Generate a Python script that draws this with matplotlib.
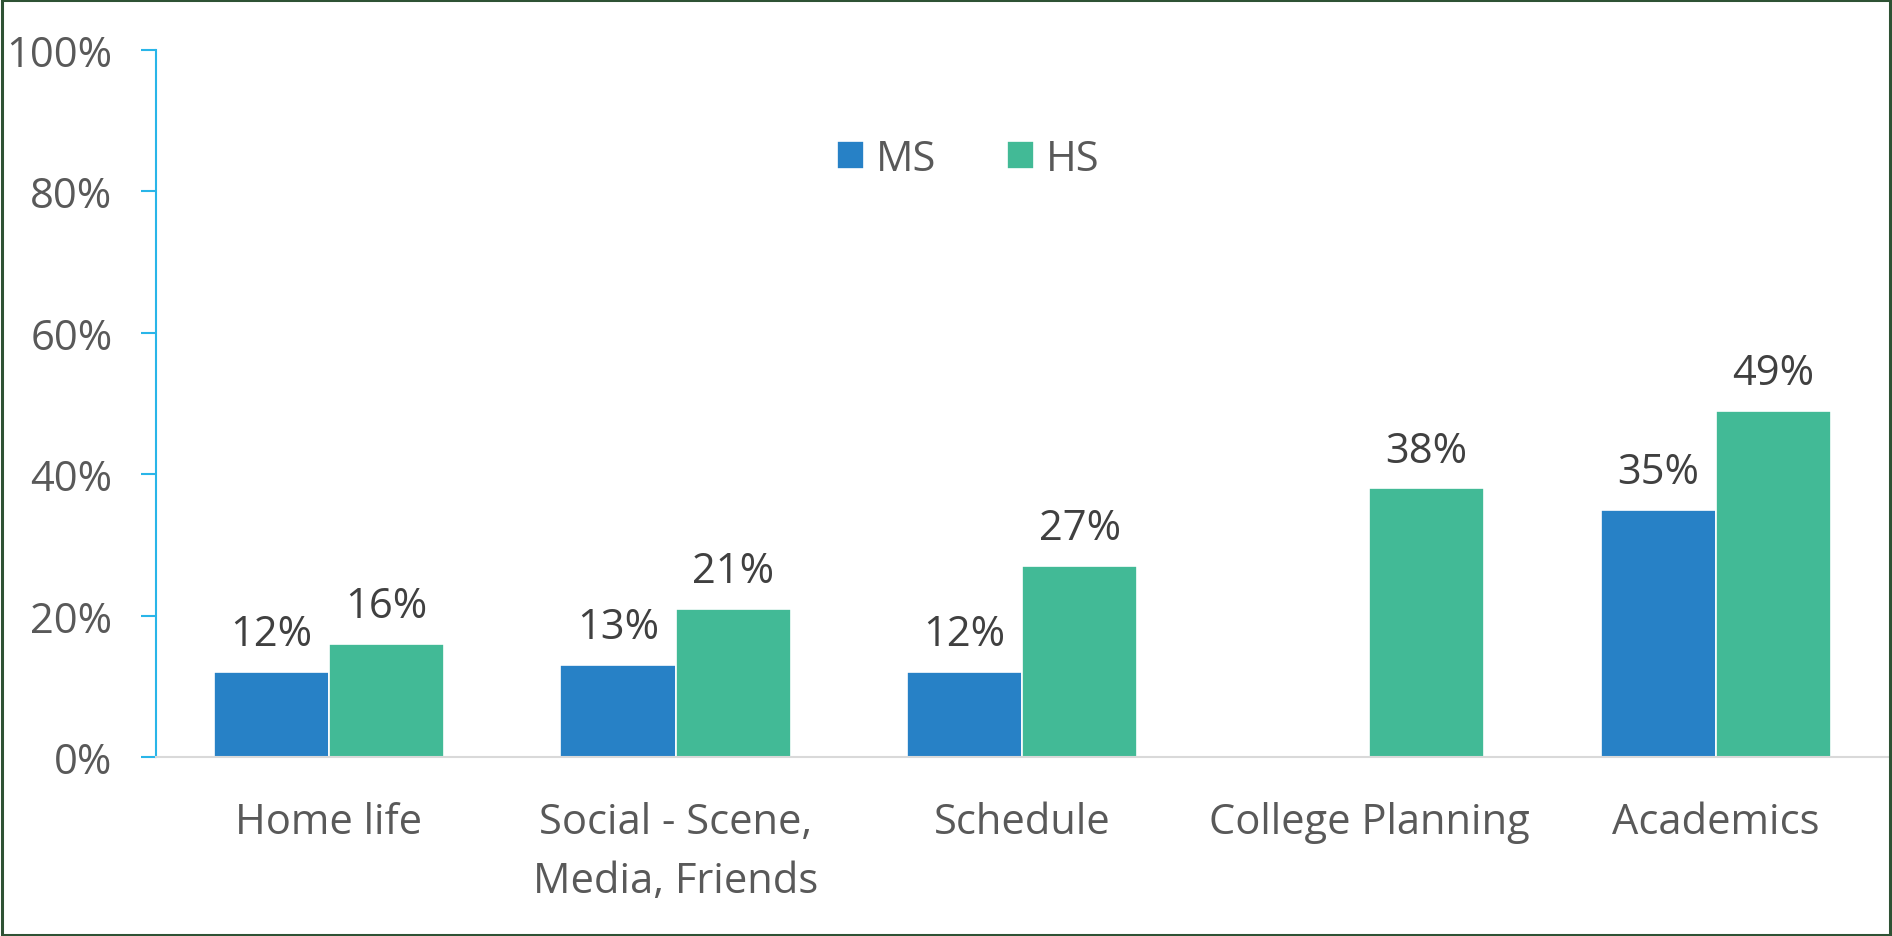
import matplotlib
matplotlib.use("Agg")
import matplotlib.pyplot as plt
from matplotlib.patches import Rectangle
import numpy as np

categories = ["Home life", "Social - Scene,\nMedia, Friends", "Schedule", "College Planning", "Academics"]
ms_values = [12, 13, 12, None, 35]
hs_values = [16, 21, 27, 38, 49]
series_names = ["MS", "HS"]
yticks = [0, 20, 40, 60, 80, 100]

ms_color = "#2781C6"
hs_color = "#42BA96"
tick_color = "#595959"
label_color = "#404040"
FS = 30

plt.rcParams['font.family'] = ['Open Sans', 'DejaVu Sans']

W, H = 1892, 937
fig = plt.figure(figsize=(W / 100, H / 100), dpi=100)
ax_left = 155.5 / W
ax_right = 1889 / W
ax_bottom = 1 - 758 / H
ax_top = 1 - 51 / H
ax = fig.add_axes([ax_left, ax_bottom, ax_right - ax_left, ax_top - ax_bottom])

x = np.arange(len(categories))
bw = 0.332
ms_plot = [v if v is not None else 0 for v in ms_values]
ax.bar(x - bw / 2, ms_plot, bw, color=ms_color, edgecolor="white", linewidth=1.2, label=series_names[0])
ax.bar(x + bw / 2, hs_values, bw, color=hs_color, edgecolor="white", linewidth=1.2, label=series_names[1])

for xi, v in zip(x, ms_values):
    if v is not None:
        ax.annotate(f"{v}%", (xi - bw / 2, v), xytext=(0, 12), textcoords="offset points",
                    ha="center", va="bottom", fontsize=FS, color=label_color)
for xi, v in zip(x, hs_values):
    ax.annotate(f"{v}%", (xi + bw / 2, v), xytext=(0, 12), textcoords="offset points",
                ha="center", va="bottom", fontsize=FS, color=label_color)

ax.set_xlim(-0.5, len(categories) - 0.5)
ax.set_ylim(0, 100)
ax.set_yticks(yticks)
ax.set_yticklabels([f"{t}%" for t in yticks], fontsize=FS, color=tick_color)
ax.tick_params(axis="y", direction="out", length=11, width=1.5, color="#29B5E8", pad=20)
ax.set_xticks(x)
ax.set_xticklabels(categories, fontsize=FS, color=tick_color, linespacing=1.52)
ax.tick_params(axis="x", length=0, pad=32)

for s in ["top", "right"]:
    ax.spines[s].set_visible(False)
ax.spines["left"].set_color("#29B5E8")
ax.spines["left"].set_linewidth(1.5)
ax.spines["bottom"].set_color("#D9D9D9")
ax.spines["bottom"].set_linewidth(1.5)

leg = ax.legend(loc="center", bbox_to_anchor=((968 - 155.5) / (1889 - 155.5), (758 - 160) / (758 - 51)),
                ncol=2, frameon=False, fontsize=FS, handlelength=0.65, handleheight=0.65,
                columnspacing=1.7, handletextpad=0.28)
for t in leg.get_texts():
    t.set_color(tick_color)

fig.patches.append(Rectangle((0.0008, 0.0015), 0.9984, 0.997, transform=fig.transFigure,
                             fill=False, edgecolor="#2E5234", linewidth=2.2))

fig.savefig("out.png", dpi=100)
